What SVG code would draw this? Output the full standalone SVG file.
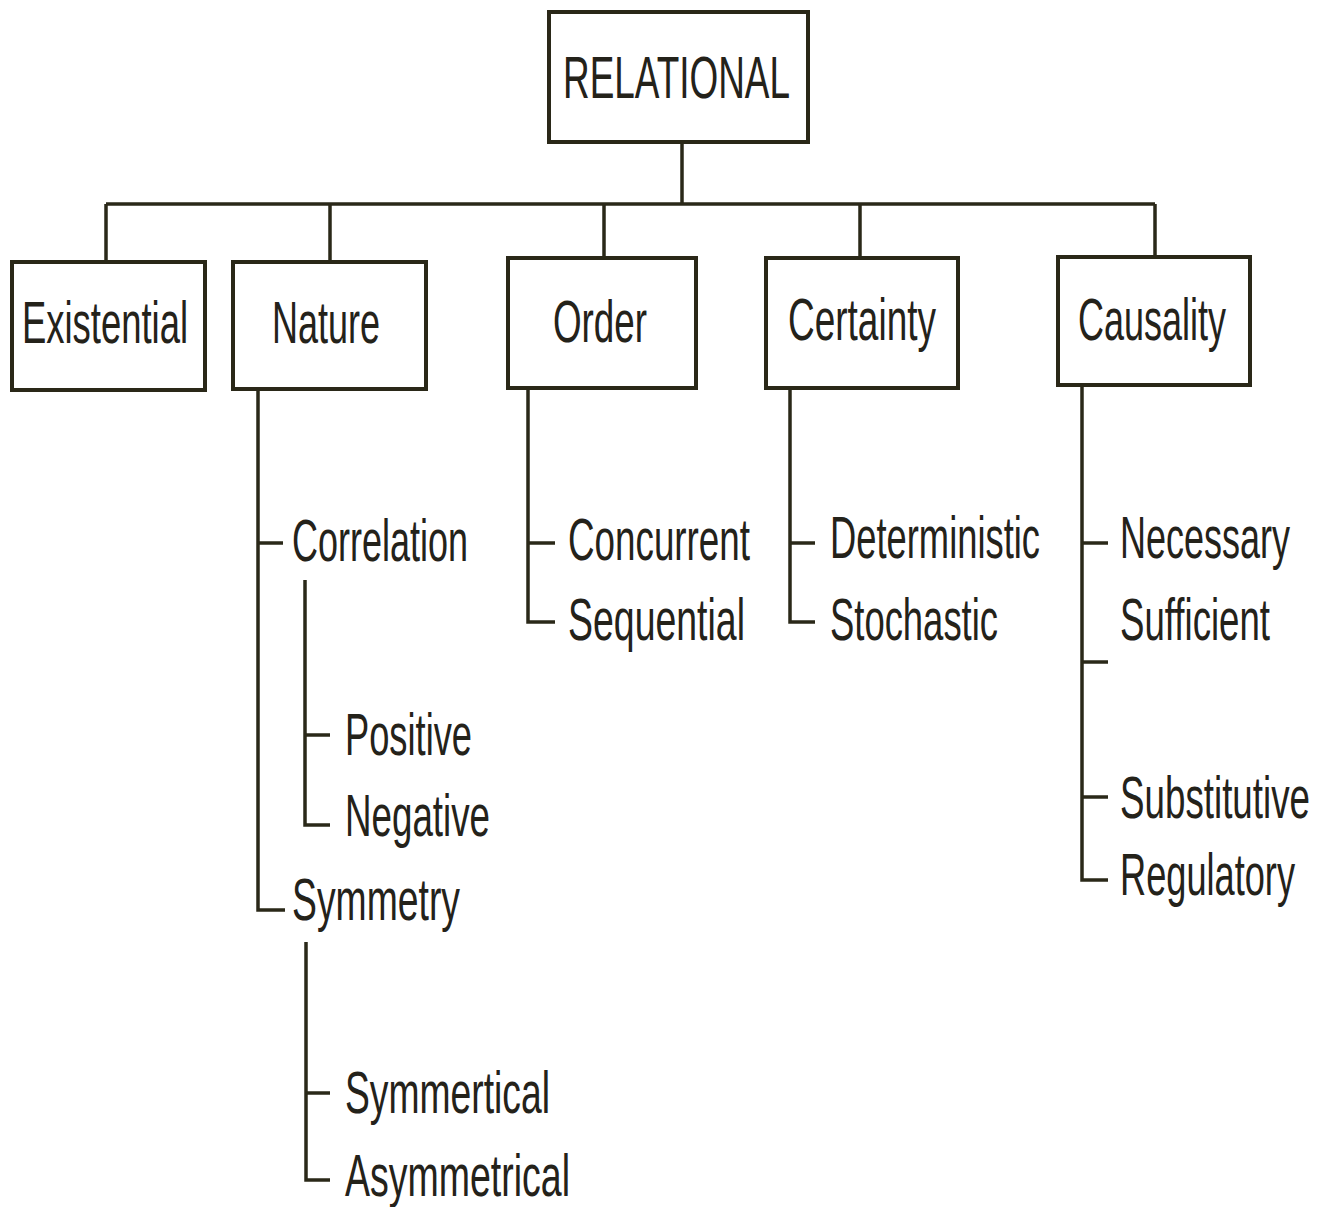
<svg xmlns="http://www.w3.org/2000/svg" width="1322" height="1207" viewBox="0 0 1322 1207">
<style>
.box{fill:#fff;stroke:#2a2818;stroke-width:4}
.ln{fill:none;stroke:#2a2818;stroke-width:3.5}
text{font-family:"Liberation Sans",Arial,sans-serif;font-size:60px;fill:#24221a}
</style>
<rect width="1322" height="1207" fill="#fff"/>
<g id="connectors">
<path class="ln" d="M682 142V204M106 204H1155M106 204V262M330 204V262M604 204V258M860 204V258M1155 204V257"/>
<path class="ln" d="M258 390V910H285M258 543H283"/>
<path class="ln" d="M305 580V825H330M305 735H330"/>
<path class="ln" d="M306 942V1180H330M306 1093H330"/>
<path class="ln" d="M528 388V622H555M528 543H555"/>
<path class="ln" d="M790 388V622H815M790 543H815"/>
<path class="ln" d="M1082 385V880H1108M1082 543H1108M1082 662H1108M1082 797H1108"/>
</g>
<g id="relational"><rect class="box" x="549" y="12" width="259" height="130"/><text x="563" y="98" textLength="227" lengthAdjust="spacingAndGlyphs">RELATIONAL</text></g>
<g id="existential"><rect class="box" x="12" y="262" width="193" height="128"/><text x="22" y="343" textLength="166" lengthAdjust="spacingAndGlyphs">Existential</text></g>
<g id="nature"><rect class="box" x="233" y="262" width="193" height="127"/><text x="272" y="343" textLength="108" lengthAdjust="spacingAndGlyphs">Nature</text></g>
<g id="order"><rect class="box" x="508" y="258" width="188" height="130"/><text x="553" y="342" textLength="94" lengthAdjust="spacingAndGlyphs">Order</text></g>
<g id="certainty"><rect class="box" x="766" y="258" width="192" height="130"/><text x="788" y="340" textLength="148" lengthAdjust="spacingAndGlyphs">Certainty</text></g>
<g id="causality"><rect class="box" x="1058" y="257" width="192" height="128"/><text x="1078" y="340" textLength="148" lengthAdjust="spacingAndGlyphs">Causality</text></g>
<g id="correlation"><text x="292" y="561" textLength="176" lengthAdjust="spacingAndGlyphs">Correlation</text></g>
<g id="positive"><text x="345" y="755" textLength="127" lengthAdjust="spacingAndGlyphs">Positive</text></g>
<g id="negative"><text x="345" y="836" textLength="145" lengthAdjust="spacingAndGlyphs">Negative</text></g>
<g id="symmetry"><text x="292" y="920" textLength="168" lengthAdjust="spacingAndGlyphs">Symmetry</text></g>
<g id="symmertical"><text x="345" y="1113" textLength="205" lengthAdjust="spacingAndGlyphs">Symmertical</text></g>
<g id="asymmetrical"><text x="345" y="1196" textLength="225" lengthAdjust="spacingAndGlyphs">Asymmetrical</text></g>
<g id="concurrent"><text x="568" y="560" textLength="182" lengthAdjust="spacingAndGlyphs">Concurrent</text></g>
<g id="sequential"><text x="568" y="640" textLength="177" lengthAdjust="spacingAndGlyphs">Sequential</text></g>
<g id="deterministic"><text x="830" y="558" textLength="210" lengthAdjust="spacingAndGlyphs">Deterministic</text></g>
<g id="stochastic"><text x="830" y="640" textLength="168" lengthAdjust="spacingAndGlyphs">Stochastic</text></g>
<g id="necessary"><text x="1120" y="558" textLength="170" lengthAdjust="spacingAndGlyphs">Necessary</text></g>
<g id="sufficient"><text x="1120" y="640" textLength="150" lengthAdjust="spacingAndGlyphs">Sufficient</text></g>
<g id="substitutive"><text x="1120" y="818" textLength="190" lengthAdjust="spacingAndGlyphs">Substitutive</text></g>
<g id="regulatory"><text x="1120" y="895" textLength="175" lengthAdjust="spacingAndGlyphs">Regulatory</text></g>
</svg>
